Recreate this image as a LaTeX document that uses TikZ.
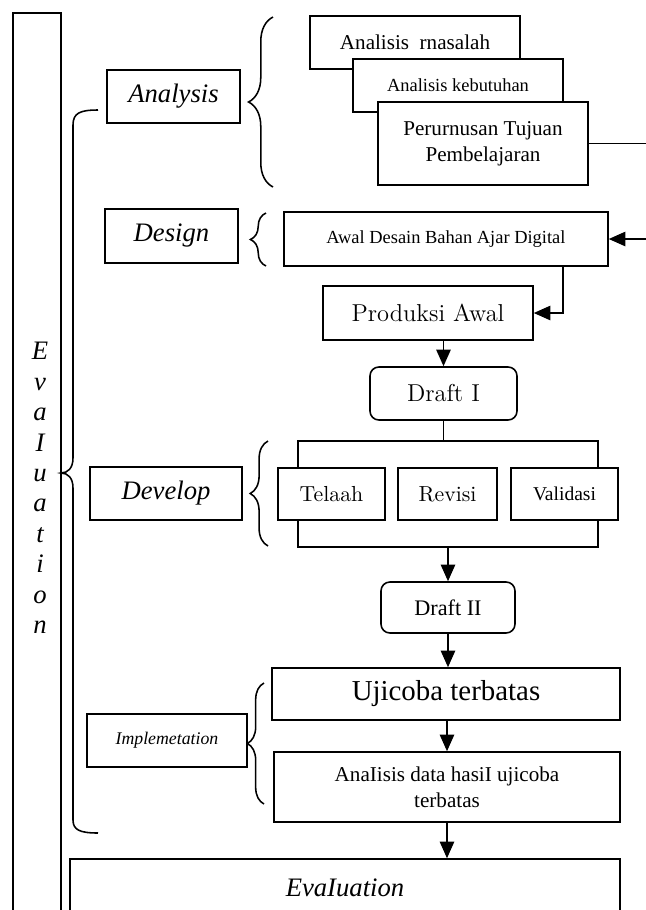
\documentclass[tikz,border=0pt]{standalone}
\usepackage{fontspec}
\usepackage{tikz}
\usetikzlibrary{arrows.meta,decorations.pathreplacing}
\newfontfamily\tnr{Liberation Serif}

\begin{document}
\begin{tikzpicture}[x=0.45pt,y=-0.45pt,line width=0.7pt,
  box/.style={draw,fill=white,inner sep=0pt,align=center},
  sz/.style 2 args={minimum width=#1*0.45pt,minimum height=#2*0.45pt},
  rbox/.style={box,rounded corners=4pt},
  phase/.style={box,font=\tnr\itshape\fontsize{12}{14}\selectfont},
  arr/.style={-{Triangle[length=7.5pt,width=6.5pt]}},
  brc/.style={decorate,decoration={brace,amplitude=#1}}]
\useasboundingbox (0,0) rectangle (646,910);
\clip (0,0) rectangle (646,910);
% left column
\node[box,sz={48}{917}] (evalbar) at (37,471.5) {};
\node[align=center,font=\tnr\itshape\fontsize{12}{13.7}\selectfont] (evalword) at (40,488) {E\\v\\a\\I\\u\\a\\t\\i\\o\\n};
\node[phase,sz={133}{53}] (analysis) at (173.5,96.5) {Analysis};
\node[phase,sz={133}{54}] (design) at (171.5,236) {Design};
\node[phase,sz={152}{53}] (develop) at (166,493.5) {Develop};
\node[phase,sz={160}{53},font=\tnr\itshape\fontsize{8}{10}\selectfont] (implem) at (167,740.5) {Implemetation};
% analysis
\node[box,sz={210}{53},font=\tnr\fontsize{9.5}{11}\selectfont] (masalah) at (415,42.5) {Analisis\ \ rnasalah};
\node[box,sz={210}{53},font=\tnr\fontsize{8.3}{10}\selectfont] (kebutuhan) at (458,85.5) {Analisis kebutuhan};
\node[box,sz={210}{83},font=\tnr\fontsize{9.5}{11.7}\selectfont] (tujuan) at (483,143.5) {Perurnusan Tujuan\\Pembelajaran};
% design
\node[box,sz={324}{54},font=\tnr\fontsize{8.3}{10}\selectfont] (awal) at (446,239) {Awal Desain Bahan Ajar Digital};
\node[box,sz={210}{54},font=\fontsize{11}{13}\selectfont] (produksi) at (428,313) {Produksi Awal};
\node[rbox,sz={147}{53},font=\fontsize{11}{13}\selectfont] (draft1) at (443.5,393.5) {Draft I};
% develop
\node[box,sz={107}{52},font=\fontsize{9.8}{11}\selectfont] (telaah) at (331.5,494) {Telaah};
\node[box,sz={99}{52},font=\fontsize{9.8}{11}\selectfont] (revisi) at (447.5,494) {Revisi};
\node[box,sz={107}{52},font=\tnr\fontsize{8.8}{10}\selectfont] (validasi) at (564.5,494) {Validasi};
\node[rbox,sz={134}{51},font=\tnr\fontsize{10}{12}\selectfont] (draft2) at (448,607.5) {Draft II};
% implementation
\node[box,sz={348}{52},font=\tnr\fontsize{13}{15}\selectfont] (ujicoba) at (446,694) {Ujicoba terbatas};
\node[box,sz={346}{70},font=\tnr\fontsize{9.5}{11.7}\selectfont] (andata) at (447,787) {AnaIisis data hasiI ujicoba\\terbatas};
\node[phase,sz={550}{58}] (evalbox) at (345,888) {EvaIuation};
% connectors
\coordinate (rt) at (670,0);
\coordinate (dd) at (563,0);
\draw[arr] (tujuan.east) -- (tujuan.east -| rt) |- (awal.east);
\draw[arr] (awal.south -| dd) |- (produksi.east);
\draw[arr] (produksi.south -| draft1.north) -- (draft1.north);
\coordinate (sL) at (298,441);
\coordinate (sR) at (598,441);
\coordinate (jL) at (298,547);
\coordinate (jR) at (598,547);
\draw (draft1.south) -- (draft1.south |- sL);
\draw (telaah.north -| sL) -- (sL) -- (sR) -- (validasi.north -| sR);
\draw (telaah.south -| jL) -- (jL) -- (jR) -- (validasi.south -| jR);
\draw[arr] (draft2.north |- jL) -- (draft2.north);
\draw[arr] (draft2.south) -- (ujicoba.north -| draft2.south);
\draw[arr] (ujicoba.south -| andata.north) -- (andata.north);
\draw[arr] (andata.south) -- (evalbox.north -| andata.south);
% braces
\draw[brc=11pt] (273,187) -- (273,17);
\draw[brc=7pt] (266,266) -- (266,213);
\draw[brc=8pt] (268,546) -- (268,441);
\draw[brc=7.5pt] (264,804) -- (264,683);
\draw (98,110) .. controls (80,110) and (73,113) .. (73,125) -- (73,458)
  .. controls (73,468) and (68,473) .. (61,473)
  .. controls (68,473) and (73,478) .. (73,488) -- (73,820)
  .. controls (73,830) and (80,833) .. (98,833);
\end{tikzpicture}
\end{document}
